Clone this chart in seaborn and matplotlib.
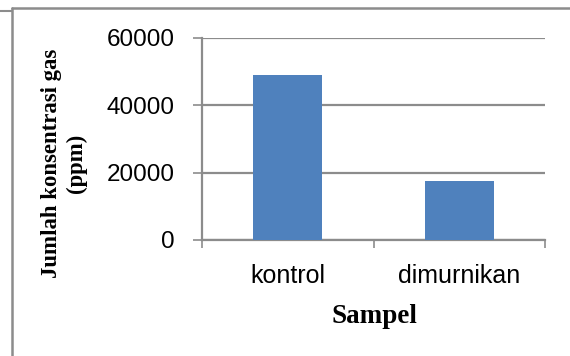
import numpy as np
import pandas as pd
import matplotlib
matplotlib.use("Agg")
import matplotlib.pyplot as plt
import seaborn as sns
from matplotlib.lines import Line2D

# data
categories = ["kontrol", "dimurnikan"]
values = [49000, 17500]
y_ticks = [0, 20000, 40000, 60000]

df = pd.DataFrame({"Sampel": categories, "Konsentrasi": values})

sns.set_style("white")
plt.rcParams["font.family"] = ["Liberation Sans", "DejaVu Sans"]
plt.rcParams["text.color"] = "black"
plt.rcParams["xtick.color"] = "black"
plt.rcParams["ytick.color"] = "black"
plt.rcParams["xtick.bottom"] = True
plt.rcParams["ytick.left"] = True

fig = plt.figure(figsize=(5.7, 3.56), dpi=100)
ax = fig.add_axes([202 / 570, 1 - 240 / 356, 343 / 570, 202 / 356])

sns.barplot(data=df, x="Sampel", y="Konsentrasi", order=categories,
            color="#4F81BD", saturation=1, width=0.4, linewidth=0, ax=ax, zorder=3)

grid_col = "#8c8c8c"
ax.set_ylim(0, 60000)
ax.set_xlim(-0.5, 1.5)
ax.set_yticks(y_ticks)
ax.set_yticklabels([str(t) for t in y_ticks], fontsize=17.5)
ax.yaxis.grid(True, color=grid_col, linewidth=1.6, zorder=0)
ax.set_axisbelow(True)

ax.set_xticks([0, 1])
ax.set_xticklabels(categories, fontsize=18)
ax.set_xticks([-0.5, 0.5, 1.5], minor=True)
ax.tick_params(axis="x", which="major", length=0, pad=17)
ax.tick_params(axis="x", which="minor", bottom=True, length=6, width=1.2,
               color=grid_col, direction="out")
ax.tick_params(axis="y", length=6.5, width=1.2, color=grid_col, labelcolor="black",
               direction="out", pad=13)

for s in ["top", "right"]:
    ax.spines[s].set_visible(False)
for s in ["left", "bottom"]:
    ax.spines[s].set_color(grid_col)
    ax.spines[s].set_linewidth(1.6)

ax.set_ylabel("")
ax.set_xlabel("")
fig.text(64 / 570, 1 - 163 / 356, "Jumlah konsentrasi gas\n(ppm)", rotation=90,
         ha="center", va="center", family="Liberation Serif", fontweight="bold",
         fontsize=16.4, linespacing=1.2, multialignment="center")
fig.text(374 / 570, 1 - 323 / 356, "Sampel", ha="center", va="baseline",
         family="Liberation Serif", fontweight="bold", fontsize=19.5)

# outer frame lines (clipped chart border)
fig.add_artist(Line2D([12 / 570, 1], [1 - 8 / 356, 1 - 8 / 356], color=grid_col, lw=1.8))
fig.add_artist(Line2D([12 / 570, 12 / 570], [0, 1 - 8 / 356], color=grid_col, lw=1.8))
fig.add_artist(Line2D([0, 12 / 570], [1 - 11 / 356, 1 - 11 / 356], color=grid_col, lw=1.5))

fig.savefig("out.png", dpi=100)
